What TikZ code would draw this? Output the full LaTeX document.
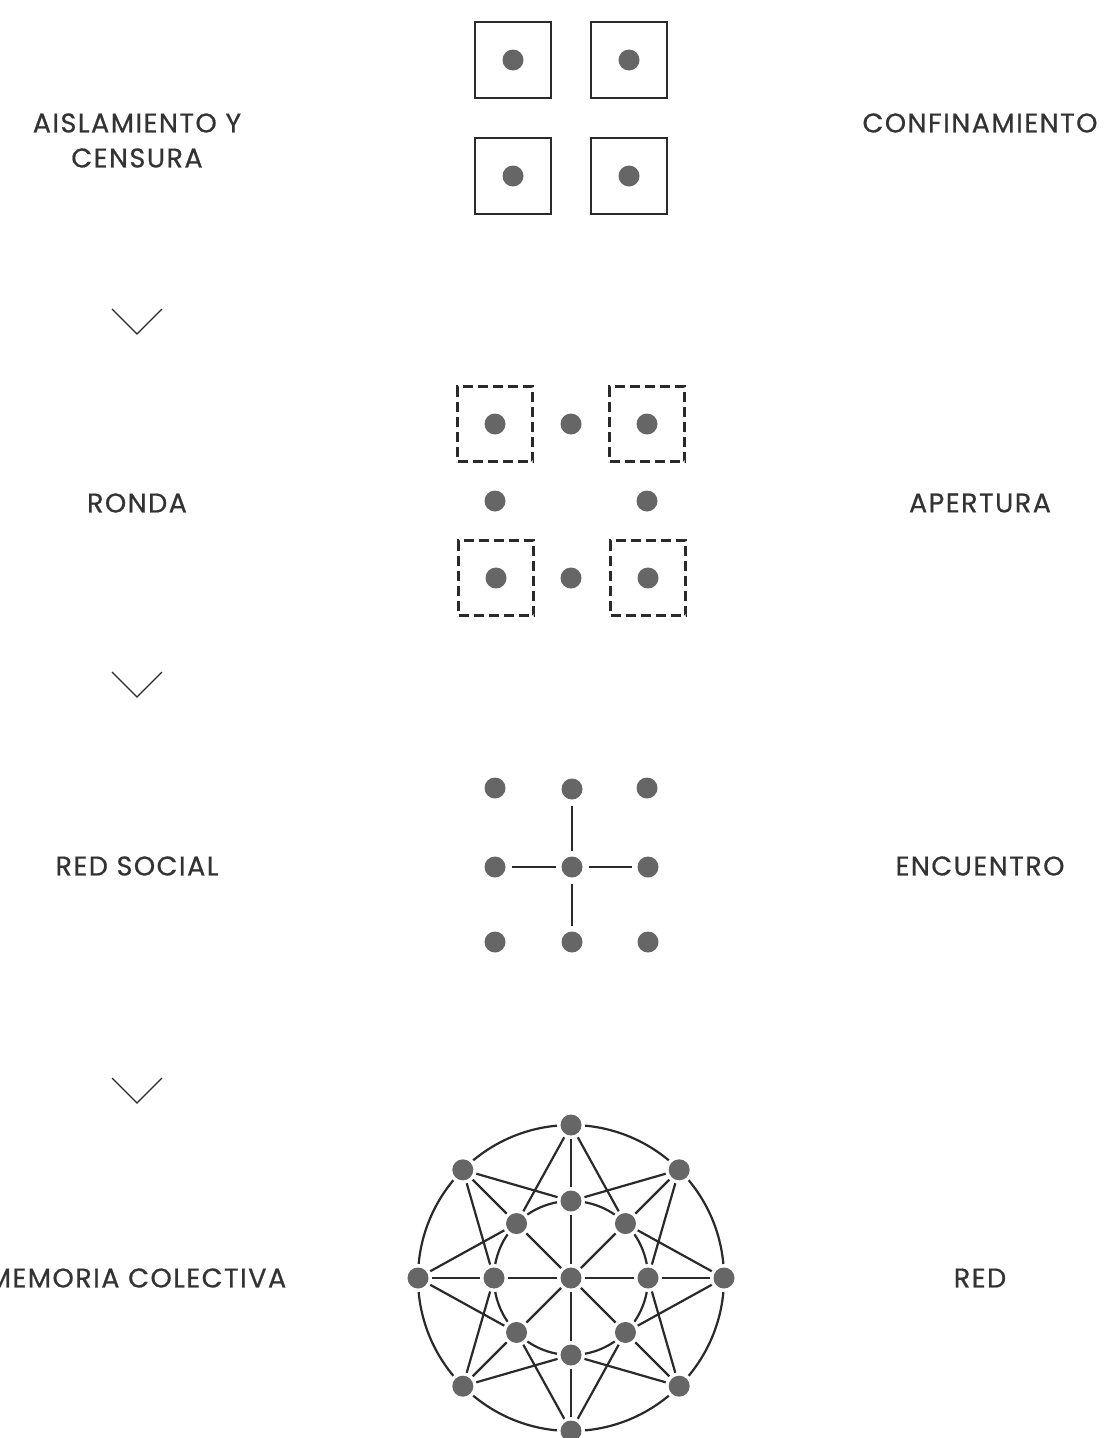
\documentclass[tikz,border=0pt]{standalone}
\usepackage{fontspec}
\setmainfont{Poppins}[LetterSpace=5.5,FakeBold=0.6]
\usetikzlibrary{calc}
\definecolor{dotgray}{HTML}{666666}
\definecolor{ink}{HTML}{2A2A2A}
\definecolor{txt}{HTML}{333333}
\begin{document}
\begin{tikzpicture}[x=1pt,y=-1pt,
  dot/.style={circle,fill=dotgray,minimum size=21pt,inner sep=0pt,outer sep=0pt},
  gapdot/.style={dot,preaction={draw=white,line width=7pt}},
  solidbox/.style={draw=ink,line width=2.4pt,minimum size=76pt,inner sep=0pt},
  dashbox/.style={draw=ink,line width=2.2pt,dash pattern=on 10pt off 5pt,minimum size=75pt,inner sep=0pt},
  link/.style={draw=ink,line width=2.2pt},
  chev/.style={draw=ink,line width=1.3pt},
  lbl/.style={text=txt,font=\fontsize{27}{35}\selectfont,align=center}]
\useasboundingbox[fill=white] (0,0) rectangle (1106,1438);

% ---- labels
\node[lbl] (l1) at (137,140.5) {AISLAMIENTO Y\\CENSURA};
\node[lbl] (r1) at (980,123) {CONFINAMIENTO};
\node[lbl] (l2) at (137,503) {RONDA};
\node[lbl] (r2) at (980,503) {APERTURA};
\node[lbl] (l3) at (137,866) {RED SOCIAL};
\node[lbl] (r3) at (980,866) {ENCUENTRO};
\node[lbl] (l4) at (137,1278) {MEMORIA COLECTIVA};
\node[lbl] (r4) at (980,1278) {RED};

% ---- chevrons
\foreach \k/\y in {1/309,2/672,3/1078}{
  \coordinate (ca\k) at (112,\y);
  \coordinate (cb\k) at (137,\y+25);
  \coordinate (cc\k) at (162,\y);
  \draw[chev] (ca\k) -- (cb\k) -- (cc\k);
}

% ---- stage 1: confinement
\foreach \n/\x/\y in {a/513/60,b/629/60,c/513/176,d/629/176}{
  \node[solidbox] (box\n) at (\x,\y) {};
  \node[dot] (p\n) at (\x,\y) {};
}

% ---- stage 2: opening
\foreach \n/\x/\y in {a/495/424,b/647/424,c/496/578,d/648/578}{
  \node[dashbox] (dbox\n) at (\x,\y) {};
  \node[dot] (q\n) at (\x,\y) {};
}
\node[dot] (qtm) at (571,424) {};
\node[dot] (qml) at (495,501) {};
\node[dot] (qmr) at (647,501) {};
\node[dot] (qbm) at (571,578) {};

% ---- stage 3: encounter
\foreach \n/\x/\y in {tl/495/788,tm/572/789,tr/647/788,ml/495/867,mm/572/867,mr/648/867,bl/495/942,bm/572/942,br/648/942}{
  \node[dot] (s\n) at (\x,\y) {};
}
\foreach \n in {tm,ml,mr,bm}{
  \draw[link,shorten <=6pt,shorten >=6pt] (smm) -- (s\n);
}

% ---- stage 4: network
\coordinate (C) at (571,1278);
\draw[link] (C) circle (153pt);
\draw[link] (C) circle (77pt);
\node[gapdot] (nc) at (C) {};
\foreach \i in {0,...,7}{
  \node[gapdot] (o\i) at ($(C)+(\i*45:153)$) {};
  \node[gapdot] (n\i) at ($(C)+(\i*45:77)$) {};
}
\foreach \i in {0,...,7}{
  \pgfmathtruncatemacro{\prev}{mod(\i+7,8)}
  \pgfmathtruncatemacro{\next}{mod(\i+1,8)}
  \draw[link,shorten <=3.5pt,shorten >=3.5pt] (nc) -- (n\i);
  \draw[link,shorten <=3.5pt,shorten >=3.5pt] (o\i) -- (n\i);
  \draw[link,shorten <=3.5pt,shorten >=3.5pt] (o\i) -- (n\prev);
  \draw[link,shorten <=3.5pt,shorten >=3.5pt] (o\i) -- (n\next);
}
\end{tikzpicture}
\end{document}
